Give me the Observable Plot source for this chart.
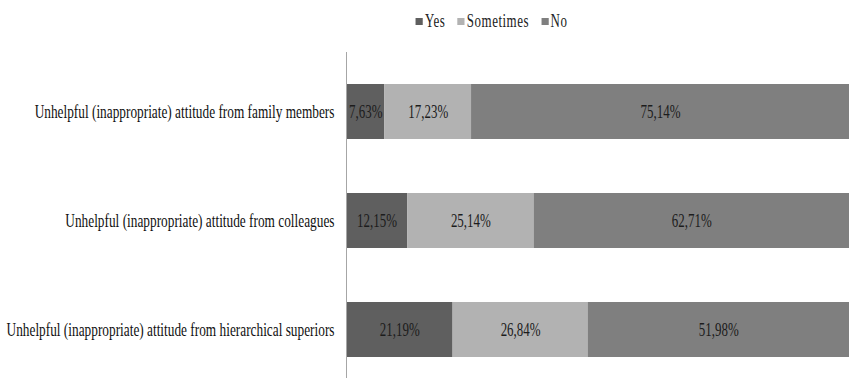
<!DOCTYPE html>
<html>
<head>
<meta charset="utf-8">
<script src="https://cdn.jsdelivr.net/npm/d3@7"></script>
<script src="https://cdn.jsdelivr.net/npm/@observablehq/plot@0.6"></script>
<style>
  html, body { margin: 0; padding: 0; background: #fff; }
  #wrap { width: 849px; height: 379px; position: relative; overflow: hidden; }
  #legend { height: 50px; width: 849px; position: relative; }
  #legend .inner {
    position: absolute; left: 67px; width: 849px; top: 12px;
    display: flex; justify-content: center; align-items: center;
    font-family: "Liberation Serif", "Times New Roman", serif; font-size: 18px; color: #222;
    transform: scaleX(0.72); transform-origin: 50% 50%; line-height: 18px;
  }
  #legend .item { display: flex; align-items: center; margin-right: 17px; letter-spacing: 0.7px; }
  #legend .item:last-child { margin-right: 0; }
  #legend .sw { width: 10px; height: 7px; margin-right: 3px; display: inline-block; }
</style>
</head>
<body>
<div id="wrap">
  <div id="legend"><div class="inner"></div></div>
  <div id="chart"></div>
</div>
<script>
const categories = [
  "Unhelpful (inappropriate) attitude from family members",
  "Unhelpful (inappropriate) attitude from colleagues",
  "Unhelpful (inappropriate) attitude from hierarchical superiors"
];
const series = ["Yes", "Sometimes", "No"];
const yesValues = [7.63, 12.15, 21.19];
const sometimesValues = [17.23, 25.14, 26.84];
const noValues = [75.14, 62.71, 51.98];
const colors = ["#5f5f5f", "#b2b2b2", "#7f7f7f"];

const valuesBySeries = [yesValues, sometimesValues, noValues];
const rows = [];
categories.forEach((c, i) => {
  series.forEach((s, j) => rows.push({category: c, series: s, value: valuesBySeries[j][i]}));
});
const fmt = v => v.toFixed(2).replace(".", ",") + "%";

// legend
const inner = document.querySelector("#legend .inner");
series.forEach((s, j) => {
  const it = document.createElement("span");
  it.className = "item";
  const sw = document.createElement("span");
  sw.className = "sw";
  sw.style.background = colors[j];
  it.appendChild(sw);
  it.appendChild(document.createTextNode(s));
  inner.appendChild(it);
});

const chart = Plot.plot({
  width: 849,
  height: 329,
  marginLeft: 346,
  marginRight: 0,
  marginTop: 2,
  marginBottom: 1,
  style: {fontFamily: "Liberation Serif, Times New Roman, serif", background: "white", overflow: "visible"},
  x: {domain: [0, 100], axis: null},
  y: {domain: categories, range: [6, 333.75], paddingInner: 0.5, paddingOuter: 0.25, label: null},
  color: {domain: series, range: colors},
  marks: [
    Plot.barX(rows, Plot.stackX({x: "value", y: "category", z: "series", fill: "series", order: series})),
    Plot.text(rows, Plot.stackX({x: "value", y: "category", z: "series", order: series,
      text: d => fmt(d.value), fill: "#1c1c1c", fontSize: 18})),
    Plot.ruleX([0], {stroke: "#a6a6a6", strokeWidth: 1}),
    Plot.axisY({tickSize: 0, tickPadding: 12, fontSize: 18, fill: "#111", label: null})
  ]
});
document.getElementById("chart").appendChild(chart);

// horizontally condense text (narrow Times look), scaling about each text's anchor
chart.querySelectorAll("text").forEach(t => {
  const isAxis = t.getAttribute("text-anchor") === "end" ||
    (t.closest("g[text-anchor]") && t.closest("g[text-anchor]").getAttribute("text-anchor") === "end");
  const s = isAxis ? 0.74 : 0.72;
  const xa = parseFloat(t.getAttribute("x"));
  const x = isFinite(xa) ? xa : 0;
  const tr = t.getAttribute("transform") || "";
  t.setAttribute("transform", `${tr} translate(${x},0) scale(${s},1) translate(${-x},0)`);
});
</script>
</body>
</html>
